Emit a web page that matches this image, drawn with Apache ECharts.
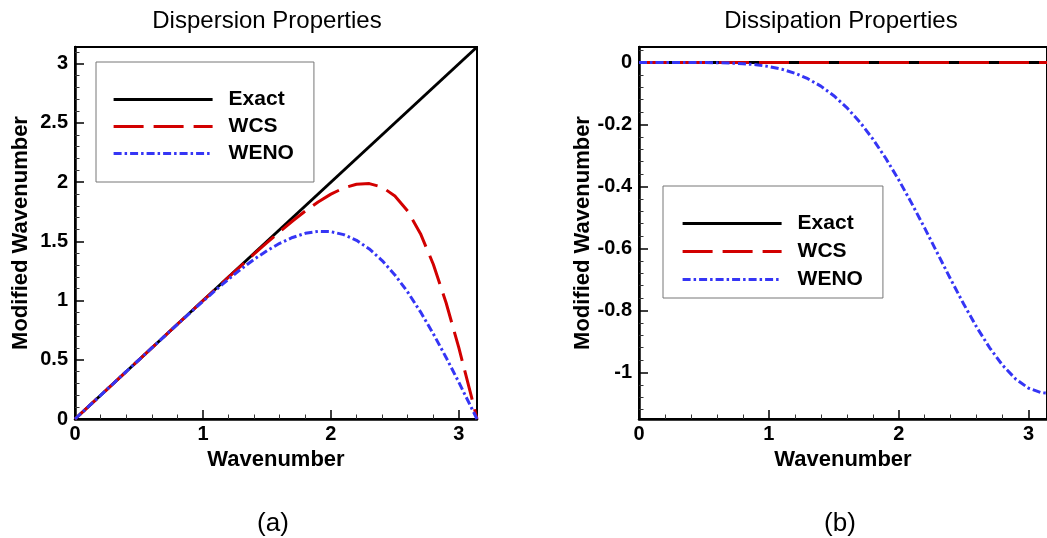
<!DOCTYPE html>
<html>
<head>
<meta charset="utf-8">
<script src="https://cdn.jsdelivr.net/npm/echarts@6/dist/echarts.min.js"></script>
<style>
html,body{margin:0;padding:0;background:#fff;}
#chart{width:1047px;height:538px;}
</style>
</head>
<body>
<div id="chart"></div>
<script>
// ---- data ----
const waveX = [0, 0.1, 0.2, 0.3, 0.4, 0.5, 0.6, 0.7, 0.8, 0.9, 1.0, 1.1, 1.2, 1.3, 1.4, 1.5, 1.6,
  1.7, 1.8, 1.9, 2.0, 2.1, 2.2, 2.3, 2.4, 2.5, 2.6, 2.7, 2.8, 2.9, 3.0, 3.1, 3.1416];
const wcsDispersion = [0, 0.100, 0.200, 0.300, 0.400, 0.500, 0.600, 0.700, 0.800, 0.900, 0.999,
  1.099, 1.198, 1.296, 1.394, 1.489, 1.582, 1.672, 1.756, 1.833, 1.899, 1.951, 1.983, 1.988,
  1.958, 1.884, 1.756, 1.565, 1.307, 0.982, 0.600, 0.180, 0];
const wenoDispersion = [0, 0.100, 0.200, 0.300, 0.400, 0.500, 0.600, 0.699, 0.799, 0.897, 0.994,
  1.089, 1.181, 1.268, 1.349, 1.421, 1.484, 1.533, 1.568, 1.585, 1.582, 1.557, 1.509, 1.436,
  1.338, 1.217, 1.072, 0.905, 0.720, 0.520, 0.309, 0.091, 0];
const wenoDissipation = [0, 0, 0, 0, -0.0001, -0.0002, -0.0007, -0.0017, -0.0037, -0.0072, -0.0130,
  -0.0217, -0.0346, -0.0524, -0.0762, -0.1070, -0.1454, -0.1918, -0.2464, -0.3090, -0.3787,
  -0.4544, -0.5344, -0.6169, -0.6993, -0.7791, -0.8537, -0.9204, -0.9769, -1.0209, -1.0507,
  -1.0653, -1.0667];
const exactX = [0, 3.1416];
const exactDispersion = [0, 3.1416];
const exactDissipation = [0, 0];
const wcsDissipation = [0, 0];

const seriesNames = ['Exact', 'WCS', 'WENO'];
const xTicks = [0, 1, 2, 3];
const xMinorTicks = [0.2, 0.4, 0.6, 0.8, 1.2, 1.4, 1.6, 1.8, 2.2, 2.4, 2.6, 2.8, 3.2];
const yTicksDispersion = [0, 0.5, 1, 1.5, 2, 2.5, 3];
const yMinorDispersion = [0.1, 0.2, 0.3, 0.4, 0.6, 0.7, 0.8, 0.9, 1.1, 1.2, 1.3, 1.4, 1.6, 1.7, 1.8, 1.9,
  2.1, 2.2, 2.3, 2.4, 2.6, 2.7, 2.8, 2.9, 3.1];
const yTicksDissipation = [-1, -0.8, -0.6, -0.4, -0.2, 0];
const yMinorDissipation = [-1.12, -1.08, -1.04, -0.96, -0.92, -0.88, -0.84, -0.76, -0.72, -0.68, -0.64,
  -0.56, -0.52, -0.48, -0.44, -0.36, -0.32, -0.28, -0.24, -0.16, -0.12, -0.08, -0.04, 0.04];
const panelTitles = ['Dispersion Properties', 'Dissipation Properties'];
const panelLabels = ['(a)', '(b)'];
const xName = 'Wavenumber';
const yName = 'Modified Wavenumber';

const pairs = (xs, ys) => xs.map((x, i) => [x, ys[i]]);

// ---- styles ----
const FONT = '"Liberation Sans", Arial, Helvetica, sans-serif';
const RED = '#d20000';
const BLUE = '#3535f5';
const styles = {
  Exact: { color: '#000', width: 3, type: 'solid' },
  WCS: { color: RED, width: 3, type: [30, 10] },
  WENO: { color: BLUE, width: 3, type: [8, 3, 2.5, 3] }
};

function mainX(grid) {
  return {
    type: 'value', gridIndex: grid, min: 0, max: 3.1416, position: 'bottom',
    name: xName, nameLocation: 'middle', nameGap: 25,
    nameTextStyle: { fontFamily: FONT, fontWeight: 'bold', fontSize: 22, color: '#000' },
    axisLine: { show: true, onZero: false, lineStyle: { color: '#000', width: 2.5 } },
    axisTick: { show: true, inside: true, length: 9, customValues: xTicks, lineStyle: { color: '#000', width: 1.5 } },
    axisLabel: { show: true, customValues: xTicks, margin: 5, fontFamily: FONT, fontWeight: 'bold', fontSize: 20, color: '#000' },
    splitLine: { show: false }
  };
}
function minorX(grid) {
  return {
    type: 'value', gridIndex: grid, min: 0, max: 3.1416, position: 'bottom',
    axisLine: { show: false, onZero: false },
    axisTick: { show: true, inside: true, length: 4.5, customValues: xMinorTicks, lineStyle: { color: '#333', width: 1 } },
    axisLabel: { show: false },
    splitLine: { show: false }
  };
}
function mainY(grid, min, max, ticks, gap) {
  return {
    type: 'value', gridIndex: grid, min: min, max: max, position: 'left',
    name: yName, nameLocation: 'middle', nameGap: gap,
    nameTextStyle: { fontFamily: FONT, fontWeight: 'bold', fontSize: 22, color: '#000' },
    axisLine: { show: true, onZero: false, lineStyle: { color: '#000', width: 2.5 } },
    axisTick: { show: true, inside: true, length: 9, customValues: ticks, lineStyle: { color: '#000', width: 1.5 } },
    axisLabel: { show: true, customValues: ticks, margin: 7, fontFamily: FONT, fontWeight: 'bold', fontSize: 20, color: '#000' },
    splitLine: { show: false }
  };
}
function minorY(grid, min, max, ticks) {
  return {
    type: 'value', gridIndex: grid, min: min, max: max, position: 'left',
    axisLine: { show: false, onZero: false },
    axisTick: { show: true, inside: true, length: 4.5, customValues: ticks, lineStyle: { color: '#333', width: 1 } },
    axisLabel: { show: false },
    splitLine: { show: false }
  };
}
function line(name, xi, yi, data) {
  const s = styles[name];
  return {
    name: name, type: 'line', xAxisIndex: xi, yAxisIndex: yi, data: data,
    symbol: 'none', showSymbol: false, smooth: false, animation: false,
    lineStyle: { color: s.color, width: s.width, type: s.type, cap: 'butt' },
    itemStyle: { color: s.color }, emphasis: { disabled: true }
  };
}
function legend(left, top, pad, gap) {
  return {
    data: seriesNames.map(n => ({
      name: n,
      lineStyle: { color: styles[n].color, width: 3.2, type: styles[n].type },
      itemStyle: { opacity: 0, color: 'rgba(0,0,0,0)', borderWidth: 0 }
    })),
    orient: 'vertical', left: left, top: top,
    padding: pad, itemGap: gap, itemWidth: 99, itemHeight: 20,
    backgroundColor: '#fff', borderColor: '#777', borderWidth: 1,
    selectedMode: false,
    itemStyle: { opacity: 0, color: 'rgba(0,0,0,0)', borderWidth: 0 },
    textStyle: { fontFamily: FONT, fontWeight: 'bold', fontSize: 21, color: '#000', padding: [0, 0, 0, 11] }
  };
}
function text(str, x, y, size, weight) {
  return { type: 'text', x: x, y: y, silent: true,
    style: { text: str, fill: '#000', font: weight + ' ' + size + 'px ' + FONT, textAlign: 'center', textVerticalAlign: 'middle' } };
}

const chart = echarts.init(document.getElementById('chart'), null, { renderer: 'canvas' });
chart.setOption({
  animation: false,
  backgroundColor: '#fff',
  grid: [
    { left: 75, top: 47, right: 570, bottom: 119, show: true, borderColor: '#000', borderWidth: 2, backgroundColor: 'transparent' },
    { left: 639, top: 47, right: -7, bottom: 119, show: true, borderColor: '#000', borderWidth: 2, backgroundColor: 'transparent' }
  ],
  xAxis: [mainX(0), minorX(0), mainX(1), minorX(1)],
  yAxis: [
    mainY(0, 0, 3.1416, yTicksDispersion, 43),
    minorY(0, 0, 3.1416, yMinorDispersion),
    mainY(1, -1.15, 0.05, yTicksDissipation, 45),
    minorY(1, -1.15, 0.05, yMinorDissipation)
  ],
  legend: [
    legend(96, 62, [27, 20, 18, 16], 6),
    legend(663, 186, [27, 20, 8, 18], 7)
  ],
  series: [
    line('Exact', 0, 0, pairs(exactX, exactDispersion)),
    line('WCS', 0, 0, pairs(waveX, wcsDispersion)),
    line('WENO', 0, 0, pairs(waveX, wenoDispersion)),
    line('Exact', 2, 2, pairs(exactX, exactDissipation)),
    line('WCS', 2, 2, pairs(exactX, wcsDissipation)),
    line('WENO', 2, 2, pairs(waveX, wenoDissipation))
  ],
  graphic: [
    text(panelTitles[0], 267, 21, 24, 'normal'),
    text(panelTitles[1], 841, 21, 24, 'normal'),
    text(panelLabels[0], 273, 524, 26, 'normal'),
    text(panelLabels[1], 840, 524, 26, 'normal')
  ]
});
</script>
</body>
</html>
